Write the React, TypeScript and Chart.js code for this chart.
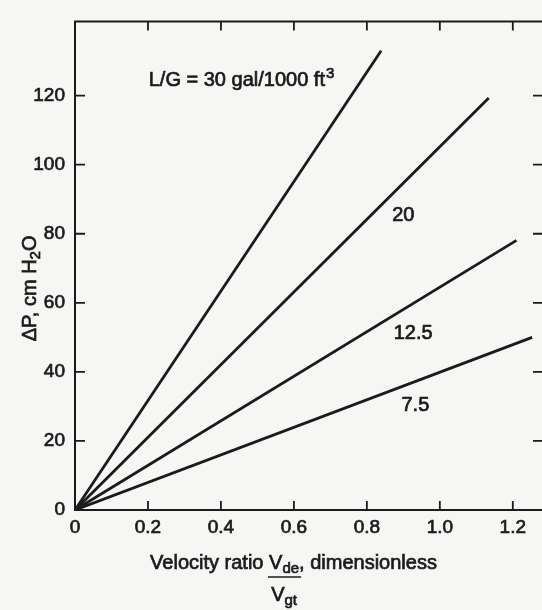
import React, { useEffect, useRef } from "react";
import { Chart, registerables } from "chart.js";

Chart.register(...registerables);

// ---- data ----
const X_TICKS = [0, 0.2, 0.4, 0.6, 0.8, 1.0, 1.2];
const Y_TICKS = [0, 20, 40, 60, 80, 100, 120];
const X_MIN = 0;
const X_MAX = 1.28;
const Y_MIN = 0;
const Y_MAX = 141.5;

const SERIES_NAMES = ["30", "20", "12.5", "7.5"];
const LINE_30 = [
  { x: 0, y: 0 },
  { x: 0.839, y: 133 },
];
const LINE_20 = [
  { x: 0, y: 0 },
  { x: 1.134, y: 119.3 },
];
const LINE_12_5 = [
  { x: 0, y: 0 },
  { x: 1.21, y: 78.1 },
];
const LINE_7_5 = [
  { x: 0, y: 0 },
  { x: 1.253, y: 50 },
];

// curve labels: text and data position (center)
const LABEL_TEXTS = ["20", "12.5", "7.5"];
const LABEL_X = [0.9, 0.927, 0.933];
const LABEL_Y = [85.2, 51.1, 30.4];
const HEAD_LABEL = "L/G = 30 gal/1000 ft";
const HEAD_SUP = "3";
const HEAD_X = 0.455;
const HEAD_Y = 122.7;

const X_TITLE_A = "Velocity ratio ";
const X_TITLE_NUM = "V";
const X_TITLE_NUM_SUB = "de";
const X_TITLE_DEN = "V";
const X_TITLE_DEN_SUB = "gt";
const X_TITLE_B = ", dimensionless";
const Y_TITLE_A = "ΔP, cm H";
const Y_TITLE_SUB = "2";
const Y_TITLE_B = "O";

const INK = "#1b1b1b";
const BG = "#f6f6f4";
const FONT = "'Liberation Sans', Arial, Helvetica, sans-serif";

const framePlugin = {
  id: "frameAndText",
  beforeDraw(chart: any) {
    const { ctx, width, height } = chart;
    ctx.save();
    ctx.fillStyle = BG;
    ctx.fillRect(0, 0, width, height);
    ctx.restore();
  },
  afterDraw(chart: any) {
    const { ctx, chartArea } = chart;
    const xs = chart.scales.x;
    const ys = chart.scales.y;
    const { left, right, top, bottom } = chartArea;
    ctx.save();
    ctx.strokeStyle = INK;
    ctx.lineCap = "butt";
    // frame
    ctx.lineWidth = 2;
    ctx.beginPath();
    ctx.moveTo(left, top);
    ctx.lineTo(left, bottom);
    ctx.lineTo(right + 2, bottom);
    ctx.moveTo(left - 1, top);
    ctx.lineTo(right + 2, top);
    ctx.stroke();
    // inward ticks
    ctx.lineWidth = 1.8;
    ctx.beginPath();
    X_TICKS.forEach((v) => {
      if (v === X_MIN) return;
      const px = xs.getPixelForValue(v);
      ctx.moveTo(px, bottom);
      ctx.lineTo(px, bottom - 9);
      ctx.moveTo(px, top);
      ctx.lineTo(px, top + 9);
    });
    Y_TICKS.forEach((v) => {
      if (v === Y_MIN) return;
      const py = ys.getPixelForValue(v);
      ctx.moveTo(left, py);
      ctx.lineTo(left + 10, py);
      ctx.moveTo(right, py);
      ctx.lineTo(right - 9, py);
    });
    ctx.stroke();

    ctx.fillStyle = INK;
    ctx.strokeStyle = INK;
    ctx.lineWidth = 0.7;
    const txt = (s: string, x: number, y: number) => {
      ctx.fillText(s, x, y);
      ctx.strokeText(s, x, y);
    };

    // curve labels
    ctx.font = `20px ${FONT}`;
    ctx.textAlign = "center";
    ctx.textBaseline = "middle";
    LABEL_TEXTS.forEach((t, i) => {
      txt(t, xs.getPixelForValue(LABEL_X[i]), ys.getPixelForValue(LABEL_Y[i]));
    });

    // header label with superscript
    ctx.textBaseline = "alphabetic";
    ctx.textAlign = "left";
    ctx.font = `20px ${FONT}`;
    const wMain = ctx.measureText(HEAD_LABEL).width;
    ctx.font = `15px ${FONT}`;
    const wSup = ctx.measureText(HEAD_SUP).width;
    const hx = xs.getPixelForValue(HEAD_X) - (wMain + wSup) / 2;
    const hy = ys.getPixelForValue(HEAD_Y);
    ctx.font = `20px ${FONT}`;
    txt(HEAD_LABEL, hx, hy);
    ctx.font = `15px ${FONT}`;
    txt(HEAD_SUP, hx + wMain + 1, hy - 8);

    // x title with fraction
    const big = `20px ${FONT}`;
    const small = `15px ${FONT}`;
    ctx.font = big;
    const wA = ctx.measureText(X_TITLE_A).width;
    const wV = ctx.measureText(X_TITLE_NUM).width;
    const wB = ctx.measureText(X_TITLE_B).width;
    const wDV = ctx.measureText(X_TITLE_DEN).width;
    ctx.font = small;
    const wde = ctx.measureText(X_TITLE_NUM_SUB).width;
    const wgt = ctx.measureText(X_TITLE_DEN_SUB).width;
    const wNum = wV + wde;
    const total = wA + wNum + wB;
    const cx = left + 218.5;
    const base = bottom + 59;
    let sx = cx - total / 2;
    ctx.font = big;
    txt(X_TITLE_A, sx, base);
    const numX = sx + wA;
    txt(X_TITLE_NUM, numX, base);
    ctx.font = small;
    txt(X_TITLE_NUM_SUB, numX + wV, base + 4);
    ctx.font = big;
    txt(X_TITLE_B, numX + wNum, base);
    // fraction bar
    ctx.lineWidth = 1.6;
    ctx.beginPath();
    ctx.moveTo(numX - 1, base + 8);
    ctx.lineTo(numX + wNum + 2, base + 8);
    ctx.stroke();
    ctx.lineWidth = 0.7;
    const wDen = wDV + wgt;
    const dx = numX + wNum / 2 - wDen / 2;
    ctx.font = big;
    txt(X_TITLE_DEN, dx, base + 32);
    ctx.font = small;
    txt(X_TITLE_DEN_SUB, dx + wDV, base + 36);

    // y title rotated
    ctx.save();
    ctx.translate(36, top + 267);
    ctx.rotate(-Math.PI / 2);
    ctx.font = big;
    const yA = ctx.measureText(Y_TITLE_A).width;
    const yB = ctx.measureText(Y_TITLE_B).width;
    ctx.font = small;
    const ySub = ctx.measureText(Y_TITLE_SUB).width;
    const yTot = yA + ySub + yB;
    let ty = -yTot / 2;
    ctx.font = big;
    txt(Y_TITLE_A, ty, 0);
    ctx.font = small;
    txt(Y_TITLE_SUB, ty + yA, 4);
    ctx.font = big;
    txt(Y_TITLE_B, ty + yA + ySub, 0);
    ctx.restore();

    ctx.restore();
  },
};

export default function App() {
  const ref = useRef<HTMLCanvasElement | null>(null);
  useEffect(() => {
    if (!ref.current) return;
    const mk = (data: { x: number; y: number }[], name: string) => ({
      label: name,
      data,
      borderColor: INK,
      borderWidth: 2.8,
      pointRadius: 0,
      fill: false,
      tension: 0,
    });
    const chart = new Chart(ref.current, {
      type: "line",
      data: {
        datasets: [
          mk(LINE_30, SERIES_NAMES[0]),
          mk(LINE_20, SERIES_NAMES[1]),
          mk(LINE_12_5, SERIES_NAMES[2]),
          mk(LINE_7_5, SERIES_NAMES[3]),
        ],
      },
      options: {
        responsive: false,
        animation: false,
        layout: { padding: { top: 12, right: 0, left: 0, bottom: 0 } },
        plugins: {
          legend: { display: false },
          tooltip: { enabled: false },
          title: { display: false },
        },
        scales: {
          x: {
            type: "linear",
            min: X_MIN,
            max: X_MAX,
            grid: { display: false, drawTicks: false },
            border: { display: false },
            afterBuildTicks: (scale: any) => {
              scale.ticks = X_TICKS.map((v) => ({ value: v }));
            },
            afterFit: (scale: any) => {
              scale.height = 100;
            },
            ticks: {
              autoSkip: false,
              maxRotation: 0,
              padding: 6,
              color: INK,
              font: { family: FONT, size: 19 },
              textStrokeColor: INK,
              textStrokeWidth: 0.7,
              callback: (v: any) => (Number(v) === 0 ? "0" : Number(v).toFixed(1)),
            },
          },
          y: {
            type: "linear",
            min: Y_MIN,
            max: Y_MAX,
            grid: { display: false, drawTicks: false },
            border: { display: false },
            afterBuildTicks: (scale: any) => {
              scale.ticks = Y_TICKS.map((v) => ({ value: v }));
            },
            afterFit: (scale: any) => {
              scale.width = 75;
            },
            ticks: {
              autoSkip: false,
              padding: 10,
              color: INK,
              font: { family: FONT, size: 19 },
              textStrokeColor: INK,
              textStrokeWidth: 0.7,
              callback: (v: any) => String(v),
            },
          },
        },
      },
      plugins: [framePlugin],
    } as any);
    return () => chart.destroy();
  }, []);
  return (
    <div style={{ position: "fixed", left: 0, top: 0, width: 542, height: 610, background: BG }}>
      <canvas ref={ref} width={542} height={610} style={{ display: "block", width: 542, height: 610 }} />
    </div>
  );
}
